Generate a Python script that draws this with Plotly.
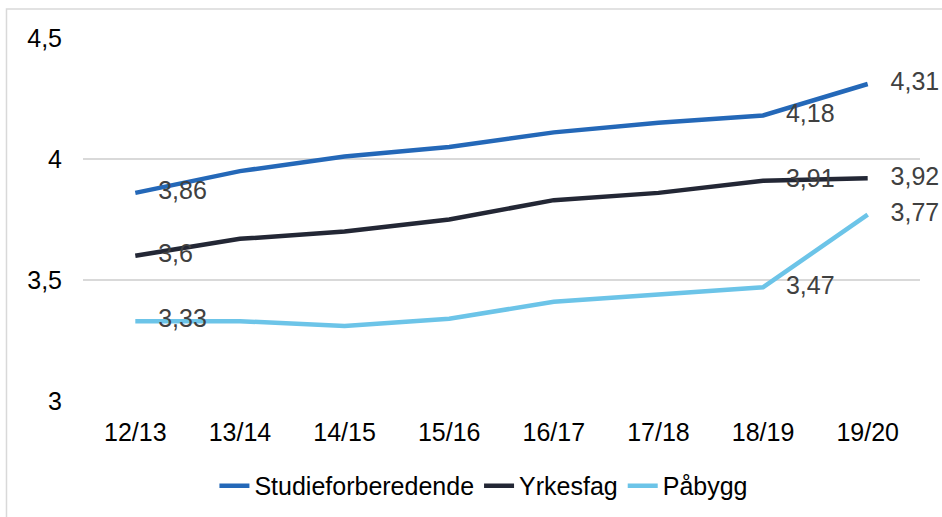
import plotly.graph_objects as go

categories = ["12/13", "13/14", "14/15", "15/16", "16/17", "17/18", "18/19", "19/20"]
studie = [3.86, 3.95, 4.01, 4.05, 4.11, 4.15, 4.18, 4.31]
yrkesfag = [3.60, 3.67, 3.70, 3.75, 3.83, 3.86, 3.91, 3.92]
pabygg = [3.33, 3.33, 3.31, 3.34, 3.41, 3.44, 3.47, 3.77]
labelled = [True, False, False, False, False, False, True, True]

series = [
    ("Studieforberedende", studie, "#2468B8"),
    ("Yrkesfag", yrkesfag, "#232735"),
    ("Påbygg", pabygg, "#6CC4E8"),
]

FONT = "Liberation Sans, Arial, sans-serif"

fig = go.Figure()
for name, vals, color in series:
    texts = [(f"{v:g}".replace(".", ",") if show else "") for v, show in zip(vals, labelled)]
    fig.add_trace(go.Scatter(
        x=categories, y=vals, name=name,
        mode="lines+markers+text",
        line=dict(color=color, width=4.5),
        marker=dict(size=35, color="rgba(0,0,0,0)"),
        text=texts, textposition="middle right",
        textfont=dict(family=FONT, size=25, color="#404040"),
        cliponaxis=False,
        hoverinfo="skip",
    ))

fig.update_layout(
    width=942, height=517,
    margin=dict(l=83, r=22, t=38, b=116, autoexpand=False),
    paper_bgcolor="white", plot_bgcolor="white",
    separators=", ",
    font=dict(family=FONT, size=25, color="#000000"),
    showlegend=True,
    legend=dict(orientation="h", x=0.479, xanchor="center", y=-0.234, yanchor="middle",
                font=dict(family=FONT, size=25, color="#000000"),
                itemwidth=30, tracegroupgap=0),
    xaxis=dict(type="category", range=[-0.5, 7.5], showgrid=False, showline=False, zeroline=False,
               tickfont=dict(family=FONT, size=25, color="#000000"),
               ticks="", ticklabelstandoff=14, automargin=False),
    yaxis=dict(range=[3, 4.5], dtick=0.5, showgrid=True, gridcolor="#d9d9d9", gridwidth=1.5,
               zeroline=False, showline=False,
               tickfont=dict(family=FONT, size=25, color="#000000"),
               ticks="", ticklabelstandoff=20, automargin=False),
    shapes=[dict(type="rect", xref="paper", yref="paper",
                 x0=-0.0914, x1=2, y0=-1, y1=1.0799,
                 line=dict(color="#d9d9d9", width=1.5), fillcolor="rgba(0,0,0,0)", layer="below")],
)

fig.write_html(
    "out.html",
    config={"responsive": False, "displayModeBar": False},
    post_script="document.body.style.margin='0';document.body.style.overflow='hidden';",
)
